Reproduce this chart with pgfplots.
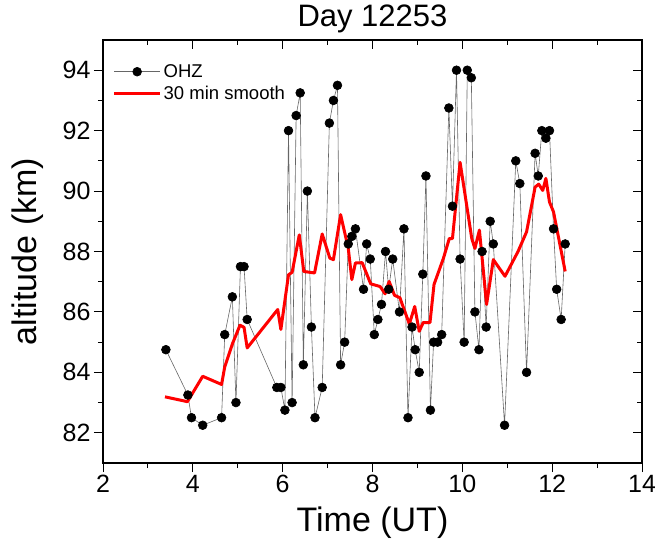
\documentclass[border=0pt]{standalone}
\usepackage{pgfplots}
\pgfplotsset{compat=1.18}
\usepackage{fontspec}
\setmainfont{Liberation Sans}

\pgfplotstableread{
x y
3.40 84.75
3.89 83.25
3.97 82.5
4.22 82.25
4.64 82.5
4.71 85.25
4.88 86.5
4.96 83.0
5.06 87.5
5.14 87.5
5.21 85.75
5.87 83.5
5.96 83.5
6.05 82.75
6.13 92.0
6.21 83.0
6.30 92.5
6.39 93.25
6.46 84.25
6.55 90.0
6.64 85.5
6.72 82.5
6.88 83.5
7.04 92.25
7.13 93.0
7.22 93.5
7.29 84.25
7.38 85.0
7.46 88.25
7.54 88.5
7.62 88.75
7.80 86.75
7.87 88.25
7.95 87.75
8.04 85.25
8.12 85.75
8.20 86.25
8.29 88.0
8.36 86.75
8.45 87.75
8.60 86.0
8.70 88.75
8.79 82.5
8.88 85.5
8.95 84.75
9.04 84.0
9.12 87.25
9.19 90.5
9.29 82.75
9.36 85.0
9.45 85.0
9.54 85.25
9.70 92.75
9.78 89.5
9.87 94.0
9.95 87.75
10.04 85.0
10.11 94.0
10.20 93.75
10.28 86.0
10.37 84.75
10.44 88.0
10.53 85.5
10.62 89.0
10.69 88.25
10.94 82.25
11.19 91.0
11.28 90.25
11.43 84.0
11.62 91.25
11.69 90.5
11.77 92.0
11.86 91.75
11.94 92.0
12.03 88.75
12.10 86.75
12.20 85.75
12.29 88.25
}\ohz

\pgfplotstableread{
x y
3.38 83.19
3.88 83.03
4.22 83.87
4.64 83.60
4.71 84.18
4.88 84.94
5.05 85.56
5.14 85.49
5.21 84.81
5.89 86.08
5.96 85.42
6.13 87.23
6.21 87.31
6.37 88.55
6.47 87.34
6.71 87.29
6.88 88.58
7.05 87.78
7.13 87.73
7.29 89.22
7.46 88.11
7.54 87.07
7.62 87.62
7.77 87.63
7.96 86.93
8.17 86.84
8.28 86.60
8.37 87.01
8.49 86.55
8.61 86.47
8.82 85.60
8.94 86.18
9.04 85.36
9.13 85.65
9.28 85.65
9.37 86.91
9.58 87.78
9.71 88.43
9.78 88.43
9.95 90.95
10.21 88.43
10.28 88.10
10.38 88.71
10.54 86.25
10.69 87.73
10.95 87.18
11.24 88.00
11.43 88.65
11.62 90.13
11.70 90.23
11.79 90.02
11.86 90.42
11.94 89.64
12.03 89.31
12.29 87.34
}\smooth

\begin{document}
\begin{tikzpicture}
\begin{axis}[
  scale only axis, width=539pt, height=423pt,
  xmin=2, xmax=14, ymin=81, ymax=95,
  xtick={2,4,...,14}, ytick={82,84,...,94},
  minor x tick num=1, minor y tick num=1,
  tick align=outside, xtick pos=left, ytick pos=left,
  major tick length=9pt, minor tick length=5pt,
  every tick/.style={black, line width=0.9pt},
  axis line style={line width=1.2pt},
  ticklabel style={font=\fontsize{25}{25}\selectfont},
  /pgf/number format/assume math mode=true,
  xlabel={Time (UT)}, ylabel={altitude (km)},
  every axis x label/.style={at={(axis description cs:0.5,-0.14)}, anchor=center},
  every axis y label/.style={at={(axis description cs:-0.14,0.5)}, anchor=center, rotate=90},
  label style={font=\fontsize{34}{34}\selectfont},
  title={Day 12253},
  every axis title/.style={at={(axis description cs:0.5,1.0496)}, anchor=center},
  title style={font=\fontsize{31}{31}\selectfont},
  legend style={draw=none, fill=none, at={(0.012,0.952)}, anchor=north west,
    font=\fontsize{18.5}{18.5}\selectfont, row sep=3pt},
  legend cell align=left,
  legend image code/.code={\draw[mark repeat=2,mark phase=2,#1] plot coordinates {(0pt,0pt) (23pt,0pt) (46pt,0pt)};},
]
\addplot[gray!80!black, line width=0.6pt, mark=*, mark size=4.4pt,
  mark options={black, fill=black, solid}] table {\ohz};
\addlegendentry{OHZ}
\addplot[red, line width=3pt, no marks, line join=round] table {\smooth};
\addlegendentry{30 min smooth}
\end{axis}
\begin{axis}[
  scale only axis, width=539pt, height=423pt,
  xmin=2, xmax=14, ymin=81, ymax=95,
  xtick={2,4,...,14}, ytick={82,84,...,94},
  minor x tick num=1, minor y tick num=1,
  tick align=inside, xtick pos=right, ytick pos=right,
  major tick length=9pt, minor tick length=5pt,
  every tick/.style={black, line width=0.9pt},
  axis line style={line width=1.2pt},
  xticklabels={}, yticklabels={},
]
\end{axis}
\pgfresetboundingbox
\path ([shift={(-103pt,-78pt)}]current axis.south west) rectangle ([shift={(13pt,40pt)}]current axis.north east);
\end{tikzpicture}
\end{document}
